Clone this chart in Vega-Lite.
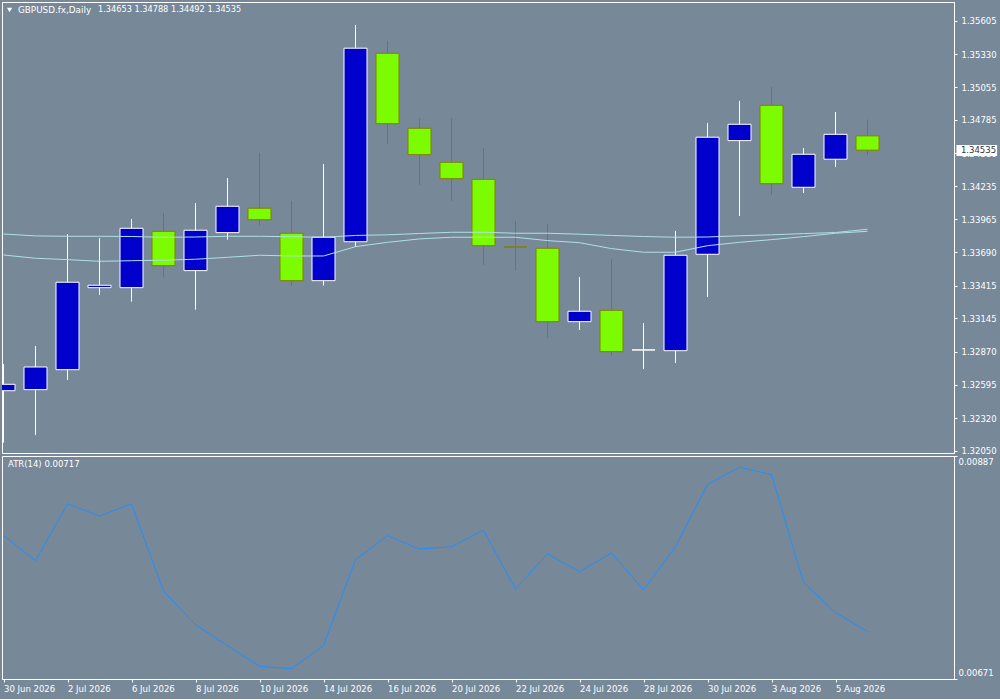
{"$schema":"https://vega.github.io/schema/vega-lite/v6.json","background":"#778899","padding":{"left":1,"top":1,"right":3,"bottom":6},"spacing":3,"bounds":"flush","config":{"view":{"stroke":"#ffffff","strokeWidth":1},"axis":{"grid":false,"title":null,"domainColor":"#ffffff","tickColor":"#ffffff","labelColor":"#ffffff","labelFont":"DejaVu Sans","labelFontSize":8.5,"tickSize":3,"labelBound":false,"labelOverlap":false},"axisY":{"labelSeparation":0},"text":{"font":"DejaVu Sans","fontSize":8.5}},"datasets":{"bars":[{"i":0,"date":"30 Jun 2026","dir":"up","open":1.32546,"high":1.32767,"low":1.32116,"close":1.32599,"ma1":1.33842,"ma2":1.33668,"atr":0.008101},{"i":1,"date":"1 Jul 2026","dir":"up","open":1.32555,"high":1.32916,"low":1.3218,"close":1.32742,"ma1":1.33826,"ma2":1.33641,"atr":0.007856},{"i":2,"date":"2 Jul 2026","dir":"up","open":1.3272,"high":1.33842,"low":1.32635,"close":1.33443,"ma1":1.33823,"ma2":1.3363,"atr":0.008406},{"i":3,"date":"3 Jul 2026","dir":"up","open":1.33398,"high":1.33809,"low":1.33338,"close":1.33418,"ma1":1.33823,"ma2":1.33616,"atr":0.008289},{"i":4,"date":"6 Jul 2026","dir":"up","open":1.33398,"high":1.33966,"low":1.33282,"close":1.33889,"ma1":1.33821,"ma2":1.33621,"atr":0.008406},{"i":5,"date":"7 Jul 2026","dir":"down","open":1.33864,"high":1.34016,"low":1.33481,"close":1.3358,"ma1":1.33815,"ma2":1.33625,"atr":0.007561},{"i":6,"date":"8 Jul 2026","dir":"up","open":1.33539,"high":1.34098,"low":1.33216,"close":1.33873,"ma1":1.33817,"ma2":1.33633,"atr":0.007237},{"i":7,"date":"9 Jul 2026","dir":"up","open":1.33853,"high":1.34305,"low":1.33795,"close":1.34071,"ma1":1.33823,"ma2":1.33649,"atr":0.007033},{"i":8,"date":"10 Jul 2026","dir":"down","open":1.34055,"high":1.34512,"low":1.33911,"close":1.3396,"ma1":1.33823,"ma2":1.33666,"atr":0.006833},{"i":9,"date":"13 Jul 2026","dir":"down","open":1.33848,"high":1.34115,"low":1.33415,"close":1.33456,"ma1":1.33819,"ma2":1.3366,"atr":0.00681},{"i":10,"date":"14 Jul 2026","dir":"up","open":1.33456,"high":1.34421,"low":1.33415,"close":1.33815,"ma1":1.33815,"ma2":1.3366,"atr":0.007033},{"i":11,"date":"15 Jul 2026","dir":"up","open":1.33778,"high":1.3557,"low":1.33735,"close":1.35378,"ma1":1.3383,"ma2":1.33737,"atr":0.007865},{"i":12,"date":"16 Jul 2026","dir":"down","open":1.35336,"high":1.35438,"low":1.34586,"close":1.34754,"ma1":1.33835,"ma2":1.33773,"atr":0.008098},{"i":13,"date":"17 Jul 2026","dir":"down","open":1.34716,"high":1.34801,"low":1.34247,"close":1.34498,"ma1":1.33846,"ma2":1.33801,"atr":0.007969},{"i":14,"date":"20 Jul 2026","dir":"down","open":1.34435,"high":1.34801,"low":1.34115,"close":1.34299,"ma1":1.33856,"ma2":1.33815,"atr":0.007991},{"i":15,"date":"21 Jul 2026","dir":"down","open":1.34294,"high":1.34553,"low":1.33586,"close":1.33745,"ma1":1.33856,"ma2":1.33815,"atr":0.00815},{"i":16,"date":"22 Jul 2026","dir":"down","open":1.33734,"high":1.3395,"low":1.33539,"close":1.33734,"ma1":1.33848,"ma2":1.33815,"atr":0.007581},{"i":17,"date":"23 Jul 2026","dir":"down","open":1.33724,"high":1.33925,"low":1.32982,"close":1.33117,"ma1":1.33848,"ma2":1.33787,"atr":0.007921},{"i":18,"date":"24 Jul 2026","dir":"up","open":1.33117,"high":1.33486,"low":1.33048,"close":1.33203,"ma1":1.3384,"ma2":1.3377,"atr":0.007749},{"i":19,"date":"27 Jul 2026","dir":"down","open":1.33211,"high":1.33635,"low":1.32836,"close":1.32869,"ma1":1.3383,"ma2":1.33721,"atr":0.00793},{"i":20,"date":"28 Jul 2026","dir":"up","open":1.32883,"high":1.33106,"low":1.32726,"close":1.32883,"ma1":1.33821,"ma2":1.33691,"atr":0.007574},{"i":21,"date":"29 Jul 2026","dir":"up","open":1.32877,"high":1.33867,"low":1.32775,"close":1.33666,"ma1":1.33815,"ma2":1.33691,"atr":0.007994},{"i":22,"date":"30 Jul 2026","dir":"up","open":1.33674,"high":1.3476,"low":1.33321,"close":1.34642,"ma1":1.33817,"ma2":1.33745,"atr":0.008593},{"i":23,"date":"31 Jul 2026","dir":"up","open":1.34614,"high":1.34942,"low":1.33991,"close":1.34749,"ma1":1.33827,"ma2":1.33773,"atr":0.008761},{"i":24,"date":"3 Aug 2026","dir":"down","open":1.34906,"high":1.35058,"low":1.34165,"close":1.34258,"ma1":1.33835,"ma2":1.33795,"atr":0.00869},{"i":25,"date":"4 Aug 2026","dir":"up","open":1.34228,"high":1.34553,"low":1.34181,"close":1.34501,"ma1":1.33845,"ma2":1.3382,"atr":0.007645},{"i":26,"date":"5 Aug 2026","dir":"up","open":1.3446,"high":1.34851,"low":1.34396,"close":1.34666,"ma1":1.33854,"ma2":1.33848,"atr":0.007354},{"i":27,"date":"6 Aug 2026","dir":"down","open":1.34653,"high":1.34788,"low":1.34492,"close":1.34535,"ma1":1.33881,"ma2":1.33864,"atr":0.00717}]},"vconcat":[{"width":952,"height":451,"layer":[{"data":{"name":"bars"},"mark":{"type":"rule","strokeWidth":1,"clip":true},"encoding":{"x":{"field":"i","type":"quantitative","scale":{"domain":[-0.047,29.703],"nice":false,"zero":false,"padding":0},"axis":null},"y":{"field":"low","type":"quantitative","scale":{"domain":[1.32031,1.3576],"nice":false,"zero":false},"axis":{"orient":"right","tickCount":14,"values":[1.35605,1.3533,1.35055,1.34785,1.3451,1.34235,1.33965,1.3369,1.33415,1.33145,1.3287,1.32595,1.3232,1.3205],"format":".5f","labelPadding":4,"labelOverlap":false}},"y2":{"field":"high"},"color":{"field":"dir","type":"nominal","scale":{"domain":["up","down"],"range":["#ffffff","#808000"]},"legend":null}}},{"data":{"name":"bars"},"mark":{"type":"bar","size":23,"strokeWidth":1,"orient":"vertical","clip":true},"encoding":{"x":{"field":"i","type":"quantitative"},"y":{"field":"open","type":"quantitative"},"y2":{"field":"close"},"fill":{"field":"dir","type":"nominal","scale":{"domain":["up","down"],"range":["#0000cd","#7cfc00"]},"legend":null},"stroke":{"field":"dir","type":"nominal","scale":{"domain":["up","down"],"range":["#ffffff","#808000"]},"legend":null}}},{"data":{"name":"bars"},"mark":{"type":"line","stroke":"#b0e0e6","strokeWidth":1},"encoding":{"x":{"field":"i","type":"quantitative"},"y":{"field":"ma1","type":"quantitative"}}},{"data":{"name":"bars"},"mark":{"type":"line","stroke":"#b0e0e6","strokeWidth":1},"encoding":{"x":{"field":"i","type":"quantitative"},"y":{"field":"ma2","type":"quantitative"}}},{"data":{"values":[{"i":0.19,"price":1.35694}]},"mark":{"type":"point","shape":"triangle-down","filled":true,"fill":"#ffffff","opacity":1,"size":28},"encoding":{"x":{"field":"i","type":"quantitative"},"y":{"field":"price","type":"quantitative"}}},{"data":{"values":[{"i":0.453,"price":1.35694,"label":"GBPUSD.fx,Daily"}]},"mark":{"type":"text","align":"left","baseline":"middle","color":"#ffffff","fontSize":8.8},"encoding":{"x":{"field":"i","type":"quantitative"},"y":{"field":"price","type":"quantitative"},"text":{"field":"label"}}},{"data":{"values":[{"i":2.953,"price":1.35694,"label":"1.34653 1.34788 1.34492 1.34535"}]},"mark":{"type":"text","align":"left","baseline":"middle","color":"#ffffff","fontSize":8.2},"encoding":{"x":{"field":"i","type":"quantitative"},"y":{"field":"price","type":"quantitative"},"text":{"field":"label"}}},{"data":{"values":[{"x1":29.78,"x2":31.05,"p1":1.34578,"p2":1.34487}]},"mark":{"type":"rect","fill":"#ffffff"},"encoding":{"x":{"field":"x1","type":"quantitative"},"x2":{"field":"x2"},"y":{"field":"p1","type":"quantitative"},"y2":{"field":"p2"}}},{"data":{"values":[{"i":29.92,"price":1.34535,"label":"1.34535"}]},"mark":{"type":"text","align":"left","baseline":"middle","color":"#333333"},"encoding":{"x":{"field":"i","type":"quantitative"},"y":{"field":"price","type":"quantitative"},"text":{"field":"label"}}}],"resolve":{"scale":{"fill":"independent","stroke":"independent","color":"independent"}}},{"width":952,"height":223,"layer":[{"data":{"name":"bars"},"mark":{"type":"line","stroke":"#1e90ff","strokeWidth":1},"encoding":{"x":{"field":"i","type":"quantitative","scale":{"domain":[-0.047,29.703],"nice":false,"zero":false},"axis":{"values":[0,2,4,6,8,10,12,14,16,18,20,22,24,26],"labelExpr":"['30 Jun 2026','2 Jul 2026','6 Jul 2026','8 Jul 2026','10 Jul 2026','14 Jul 2026','16 Jul 2026','20 Jul 2026','22 Jul 2026','24 Jul 2026','28 Jul 2026','30 Jul 2026','3 Aug 2026','5 Aug 2026'][datum.value/2]","labelAlign":"left","labelPadding":2,"labelFlush":false}},"y":{"field":"atr","type":"quantitative","scale":{"domain":[0.00671,0.00887],"nice":false,"zero":false},"axis":{"orient":"right","values":[0.00671,0.00887],"format":".5f","labelFlush":false,"labelPadding":1,"labelOffset":{"expr":"datum.value>0.008?5.5:-7"}}}}},{"data":{"values":[{"i":0.14,"atr":0.00879,"label":"ATR(14) 0.00717"}]},"mark":{"type":"text","align":"left","baseline":"middle","color":"#ffffff"},"encoding":{"x":{"field":"i","type":"quantitative"},"y":{"field":"atr","type":"quantitative"},"text":{"field":"label"}}}]}]}
